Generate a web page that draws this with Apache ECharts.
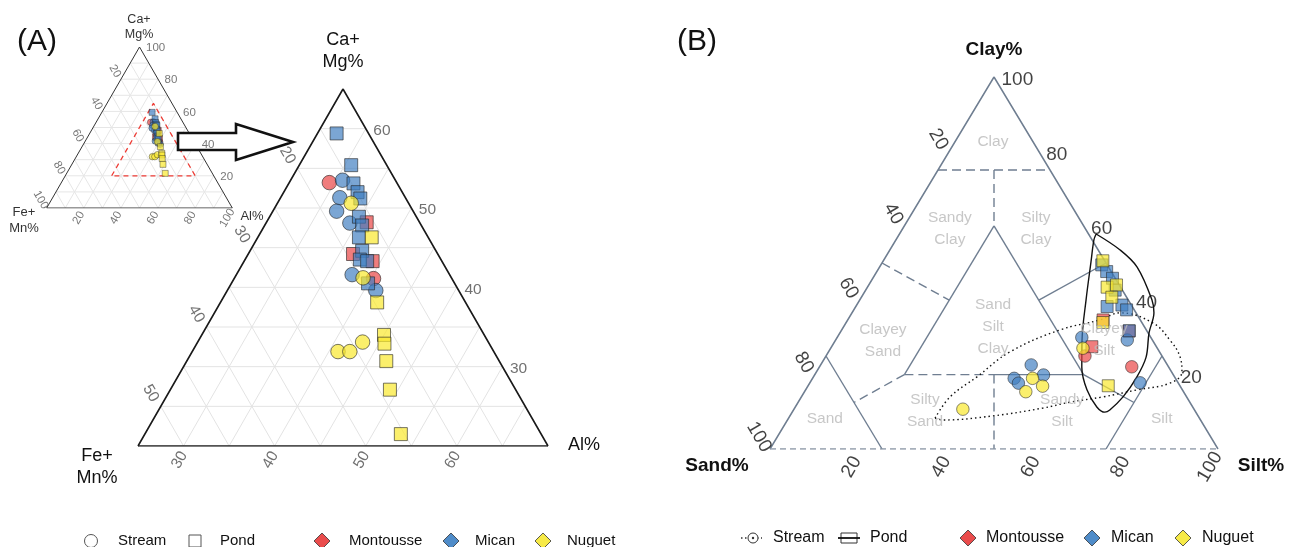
<!DOCTYPE html>
<html><head><meta charset="utf-8">
<script src="https://cdn.jsdelivr.net/npm/echarts/dist/echarts.min.js"></script>
<style>html,body{margin:0;padding:0;background:#fff}#c{width:1290px;height:547px}</style>
</head><body><div id="c"></div>
<script>
// ===== Data =====
// Panel A: [Ca+Mg %, Fe+Mn %, Al %]
const montousseStreamA = [[53.2,17.4,29.4],[41.1,18.6,40.3]];
const montoussePondA   = [[48.2,15.8,36.0],[44.2,19.3,36.5],[43.3,17.6,39.1]];
const micanStreamA     = [[53.5,15.8,30.7],[51.3,17.2,31.5],[49.6,18.4,32.0],[48.1,17.7,34.2],[41.6,20.7,37.7],[39.6,19.1,41.3]];
const micanPondA       = [[59.4,13.5,27.1],[55.4,13.9,30.7],[53.1,14.8,32.1],[52.0,14.9,33.1],[51.2,15.0,33.8],[48.9,16.3,34.8],[47.8,16.5,35.7],[46.3,17.6,36.1],[44.6,18.1,37.3],[43.5,18.9,37.6],[43.3,18.2,38.5],[40.5,19.5,40.0]];
const nuguetStreamA    = [[50.6,16.3,33.1],[41.2,19.7,39.1],[31.9,27.1,41.0],[31.9,25.8,42.3],[33.1,23.8,43.1]];
const nuguetPondA      = [[46.3,16.2,37.5],[38.1,19.7,42.2],[34.0,21.0,45.0],[32.9,21.5,45.6],[30.7,22.4,46.9],[27.1,23.8,49.1],[21.5,25.4,53.1]];
// Panel B: [Clay %, Silt %, Sand %]
const montousseStreamB = [[25.0,57.8,17.2],[22.1,69.7,8.2]];
const montoussePondB   = [[34.7,57.0,8.3],[31.7,64.3,4.0],[27.5,58.1,14.4]];
const micanStreamB     = [[30.0,54.6,15.4],[29.3,65.1,5.6],[17.8,73.7,8.5],[22.6,47.0,30.4],[19.0,45.0,36.0],[17.7,46.6,35.7],[19.9,51.1,29.0]];
const micanPondB       = [[49.5,49.3,1.2],[47.7,51.3,1.0],[45.9,53.5,0.6],[42.7,55.7,1.6],[38.3,56.1,5.6],[38.7,59.2,2.1],[37.4,60.9,1.7],[31.8,64.3,3.9]];
const nuguetStreamB    = [[27.1,56.3,16.6],[19.0,49.1,31.9],[16.9,52.4,30.7],[15.4,49.4,35.2],[10.7,37.7,51.6]];
const nuguetPondB      = [[50.6,49.0,0.4],[43.5,53.5,3.0],[44.1,55.3,0.6],[40.8,55.9,3.3],[34.0,57.3,8.7],[17.0,67.0,16.0]];
// Envelopes in panel B: [Clay %, Silt %]
const pondHullB = [[57.8,43.9],[53.5,51.4],[48.9,57.5],[40.1,65.2],[36.6,67.4],[31.2,69.0],[24.7,71.6],[19.4,72.2],[14.0,71.8],[10.5,70.6],[9.9,69.8],[11.3,67.3],[15.9,62.8],[22.0,58.6],[29.3,55.0],[40.1,50.5],[50.3,46.5],[56.2,44.2],[57.8,43.9]];
const streamEnvB = [[8.3,32.7],[14.0,33.2],[19.4,36.5],[26.1,40.5],[32.0,48.7],[34.7,56.3],[36.6,59.8],[33.9,68.5],[29.3,74.6],[24.7,79.2],[20.7,81.6],[17.7,80.4],[15.9,74.0],[14.0,67.3],[12.6,60.7],[11.0,55.4],[8.9,45.3],[7.8,34.7],[8.3,32.7]];
// Shepard classification boundaries [Clay, Silt]
const shepardSolid = [[[25,0],[0,25]],[[25,75],[0,75]],[[60,20],[20,20]],[[60,20],[20,60]],[[20,40],[20,60]],[[40,40],[50,50]],[[20,60],[12.5,75]]];
const shepardDashed = [[[75,0],[75,25]],[[75,12.5],[60,20]],[[20,20],[20,40]],[[50,0],[40,20]],[[20,20],[12.5,12.5]],[[20,40],[0,50]]];
const shepardClasses = ['Clay','Sandy\nClay','Silty\nClay','Sand\nSilt\nClay','Clayey\nSand','Clayey\nSilt','Sand','Silty\nSand','Sandy\nSilt','Silt'];
const shepardClassPos = [[82.5,8.5],[59.1,10.6],[59.1,29.8],[32.8,33.4],[29.0,10.7],[29.3,59.9],[8.1,8.2],[10.2,29.5],[10.2,60.1],[8.1,83.4]];
// Tick labels
const ticksA_CaMg = [30,40,50,60];
const ticksA_FeMn = [20,30,40,50];
const ticksA_Al   = [30,40,50,60];
const ticksInset  = [20,40,60,80,100];
const ticksB      = [20,40,60,80,100];

// ===== Ternary helpers =====
const sysIn = {tMin:0, lMin:0, rMin:0, D:100};
const sysA  = {tMin:20, lMin:10, rMin:25, D:45};
const sysB  = {tMin:0, lMin:0, rMin:0, D:100};
function xy(sys, top, right){ const t=(top-sys.tMin)/sys.D, r=(right-sys.rMin)/sys.D; return [r+t/2, t]; }
// label offset given in screen pixels, converted into the rotated label frame
function rot(dx, dy, deg){ const a=deg*Math.PI/180, c=Math.cos(a), s=Math.sin(a); return {offset:[dx*c - dy*s, dx*s + dy*c], rotate:deg}; }

const FONT = '"Liberation Sans", Arial, Helvetica, sans-serif';
const RED='rgba(234,70,70,0.88)', BLUE='rgba(62,124,192,0.85)', YEL='rgba(250,232,45,0.88)';
const series = [];
function line(g, pts, style, extra){
  series.push(Object.assign({type:'line', xAxisIndex:g, yAxisIndex:g, data:pts, symbol:'none', showSymbol:false,
    silent:true, animation:false, lineStyle:style, z:1}, extra||{}));
}
function gridLines(g, sys, step, style){
  const tMax=sys.tMin+sys.D, rMax=sys.rMin+sys.D, lMax=sys.lMin+sys.D;
  for(let v=sys.tMin+step; v<tMax-0.01; v+=step) line(g,[xy(sys,v,sys.rMin), xy(sys,v,100-v-sys.lMin)],style);
  for(let v=sys.rMin+step; v<rMax-0.01; v+=step) line(g,[xy(sys,sys.tMin,v), xy(sys,100-v-sys.lMin,v)],style);
  for(let v=sys.lMin+step; v<lMax-0.01; v+=step) line(g,[xy(sys,sys.tMin,100-v-sys.tMin), xy(sys,100-v-sys.rMin,sys.rMin)],style);
}
function edges(g, sys, style, bottomStyle){
  const T=xy(sys,sys.tMin+sys.D,sys.rMin), L=xy(sys,sys.tMin,sys.rMin), R=xy(sys,sys.tMin,sys.rMin+sys.D);
  line(g,[L,T,R],style,{z:3});
  line(g,[L,R],bottomStyle||style,{z:3});
}
function labels(g, items, opts){
  series.push({type:'scatter', xAxisIndex:g, yAxisIndex:g, symbolSize:1, silent:true, animation:false, z:12,
    itemStyle:{color:'rgba(0,0,0,0)'},
    data: items.map(it=>({value:it.p, name:it.t})),
    label: Object.assign({show:true, formatter:'{b}', position:'inside', fontFamily:FONT}, opts)});
}
function points(g, pts, mapFn, shape, size, color, bw){
  series.push({type:'scatter', xAxisIndex:g, yAxisIndex:g, symbol:shape, symbolSize:size, animation:false, z:8,
    data: pts.map(mapFn), itemStyle:{color:color, borderColor:'rgba(35,35,35,0.85)', borderWidth:bw}});
}

// ===== Inset (grid 0) =====
gridLines(0, sysIn, 10, {color:'#e6e6e6', width:1});
edges(0, sysIn, {color:'#333', width:1});
line(0, [xy(sysIn,sysA.tMin,sysA.rMin), xy(sysIn,sysA.tMin+sysA.D,sysA.rMin), xy(sysIn,sysA.tMin,sysA.rMin+sysA.D), xy(sysIn,sysA.tMin,sysA.rMin)],
     {color:'#ee3b34', width:1.3, type:[5,4]}, {z:4});
const lbIn = {fontSize:11.5, color:'#555'};
labels(0, ticksInset.map(c=>({p:xy(sysIn,c,100-c), t:String(c)})), Object.assign({position:'right', distance:6, offset:[0,1]}, lbIn));
labels(0, ticksInset.map(f=>({p:xy(sysIn,100-f,0), t:String(f)})), Object.assign(rot(-6,-8,-60), lbIn));
labels(0, ticksInset.map(a=>({p:xy(sysIn,0,a), t:String(a)})), Object.assign(rot(-5,10,60), lbIn));
const mapA = s => d => xy(s, d[0], d[2]);
[[montousseStreamA,montoussePondA,RED],[micanStreamA,micanPondA,BLUE],[nuguetStreamA,nuguetPondA,YEL]].forEach(([st,pd,c])=>{
  points(0, st, mapA(sysIn), 'circle', 6.5, c, 0.6);
  points(0, pd, mapA(sysIn), 'rect', 6, c, 0.6);
});

// ===== Panel A main (grid 1) =====
gridLines(1, sysA, 5, {color:'#e3e3e3', width:1});
edges(1, sysA, {color:'#1a1a1a', width:1.6});
const lbA = {fontSize:15.5, color:'#4d4d4d'};
labels(1, ticksA_CaMg.map(c=>({p:xy(sysA,c,100-c-sysA.lMin), t:String(c)})), Object.assign({position:'right', distance:7, offset:[0,2]}, lbA));
labels(1, ticksA_FeMn.map(f=>({p:xy(sysA,100-f-sysA.rMin,sysA.rMin), t:String(f)})), Object.assign(rot(-10,-13,-60), lbA));
labels(1, ticksA_Al.map(a=>({p:xy(sysA,sysA.tMin,a), t:String(a)})), Object.assign(rot(-4,14,60), lbA));
[[montousseStreamA,montoussePondA,RED],[micanStreamA,micanPondA,BLUE],[nuguetStreamA,nuguetPondA,YEL]].forEach(([st,pd,c])=>{
  points(1, st, mapA(sysA), 'circle', 14.5, c, 0.9);
  points(1, pd, mapA(sysA), 'rect', 13, c, 0.9);
});

// ===== Panel B (grid 2) =====
const slate = '#6f7e91';
shepardSolid.forEach(s=>line(2, s.map(p=>xy(sysB,p[0],p[1])), {color:slate, width:1.4}));
shepardDashed.forEach(s=>line(2, s.map(p=>xy(sysB,p[0],p[1])), {color:slate, width:1.4, type:[9,5]}));
edges(2, sysB, {color:slate, width:1.5}, {color:'#8a96a5', width:1.4, type:[6,4]});
labels(2, shepardClasses.map((t,i)=>({p:xy(sysB,shepardClassPos[i][0],shepardClassPos[i][1]), t})), {fontSize:15.5, color:'#b9b9b9', lineHeight:22, z:2});
line(2, pondHullB.map(p=>xy(sysB,p[0],p[1])), {color:'#111', width:1.4}, {smooth:0.35, z:5});
line(2, streamEnvB.map(p=>xy(sysB,p[0],p[1])), {color:'#111', width:1.4, type:[1.5,3]}, {smooth:0.4, z:5});
const lbB = {fontSize:19, color:'#111'};
labels(2, ticksB.map(c=>({p:xy(sysB,c,100-c), t:String(c)})), Object.assign({position:'right', distance:7, offset:[0,3]}, lbB));
labels(2, ticksB.map(s=>({p:xy(sysB,100-s,0), t:String(s)})), Object.assign(rot(-11,-12,-60), lbB));
labels(2, ticksB.map(s=>({p:xy(sysB,0,s), t:String(s)})), Object.assign(rot(-8,18,60), lbB));
const mapB = d => xy(sysB, d[0], d[1]);
[[montousseStreamB,montoussePondB,RED],[micanStreamB,micanPondB,BLUE],[nuguetStreamB,nuguetPondB,YEL]].forEach(([st,pd,c])=>{
  points(2, st, mapB, 'circle', 12.5, c, 0.8);
  points(2, pd, mapB, 'rect', 12, c, 0.8);
});

// ===== Graphic decorations =====
function txt(x,y,text,size,opts){
  return Object.assign({type:'text', x:x, y:y, z:20, silent:true,
    style:Object.assign({text:text, fontSize:size, fontFamily:FONT, fill:'#111', textAlign:'center', textVerticalAlign:'middle', verticalAlign:'middle', lineHeight:Math.round(size*1.2)}, opts||{})});
}
function diamond(cx,cy,fill){
  return {type:'polygon', z:20, shape:{points:[[cx,cy-8],[cx+8,cy],[cx,cy+8],[cx-8,cy]]}, style:{fill:fill, stroke:'#333', lineWidth:0.8}};
}
const graphics = [
  txt(37,42,'(A)',30), txt(697,42,'(B)',30),
  txt(139,27,'Ca+\nMg%',12.5,{fill:'#333'}), txt(24,220,'Fe+\nMn%',13,{fill:'#333'}), txt(252,216,'Al%',13,{fill:'#333'}),
  txt(343,51,'Ca+\nMg%',18), txt(97,467,'Fe+\nMn%',18), txt(584,445,'Al%',18),
  txt(994,50,'Clay%',19,{fontWeight:'bold'}), txt(717,466,'Sand%',19,{fontWeight:'bold'}), txt(1261,466,'Silt%',19,{fontWeight:'bold'}),
  {type:'polygon', z:6, shape:{points:[[178,133],[236,133],[236,124],[293,142],[236,160],[236,150],[178,150]]}, style:{fill:'#fff', stroke:'#111', lineWidth:2.6}},
  // Legend A
  {type:'circle', z:20, shape:{cx:91,cy:541,r:6.5}, style:{fill:'#fff', stroke:'#555', lineWidth:1}},
  txt(118,541,'Stream',15,{textAlign:'left'}),
  {type:'rect', z:20, shape:{x:189,y:535,width:12,height:12}, style:{fill:'#fff', stroke:'#555', lineWidth:1}},
  txt(220,541,'Pond',15,{textAlign:'left'}),
  diamond(322,541,'#ea4c4c'), txt(349,541,'Montousse',15,{textAlign:'left'}),
  diamond(451,541,'#4f8cc9'), txt(475,541,'Mican',15,{textAlign:'left'}),
  diamond(543,541,'#f7ea47'), txt(567,541,'Nuguet',15,{textAlign:'left'}),
  // Legend B
  {type:'line', z:20, shape:{x1:741,y1:538,x2:762,y2:538}, style:{stroke:'#333', lineWidth:1.4, lineDash:[1.5,2.5]}},
  {type:'circle', z:21, shape:{cx:753,cy:538,r:5}, style:{fill:'#fff', stroke:'#333', lineWidth:1}},
  {type:'circle', z:22, shape:{cx:753,cy:538,r:1.2}, style:{fill:'#333'}},
  txt(773,538,'Stream',16,{textAlign:'left'}),
  {type:'rect', z:20, shape:{x:841,y:533,width:16,height:10}, style:{fill:'#fff', stroke:'#333', lineWidth:1}},
  {type:'line', z:21, shape:{x1:838,y1:538,x2:860,y2:538}, style:{stroke:'#111', lineWidth:1.8}},
  txt(870,538,'Pond',16,{textAlign:'left'}),
  diamond(968,538,'#ea4c4c'), txt(986,538,'Montousse',16,{textAlign:'left'}),
  diamond(1092,538,'#4f8cc9'), txt(1111,538,'Mican',16,{textAlign:'left'}),
  diamond(1183,538,'#f7ea47'), txt(1202,538,'Nuguet',16,{textAlign:'left'})
];

const chart = echarts.init(document.getElementById('c'), null, {renderer:'canvas'});
const ax = i => ({type:'value', gridIndex:i, min:0, max:1, show:false});
chart.setOption({
  animation:false,
  backgroundColor:'#fff',
  grid:[{left:46.7,top:47,width:185.6,height:161},{left:138,top:89,width:410,height:357},{left:770,top:77,width:448,height:372}],
  xAxis:[ax(0),ax(1),ax(2)],
  yAxis:[ax(0),ax(1),ax(2)],
  series: series,
  graphic: graphics
});
</script></body></html>
